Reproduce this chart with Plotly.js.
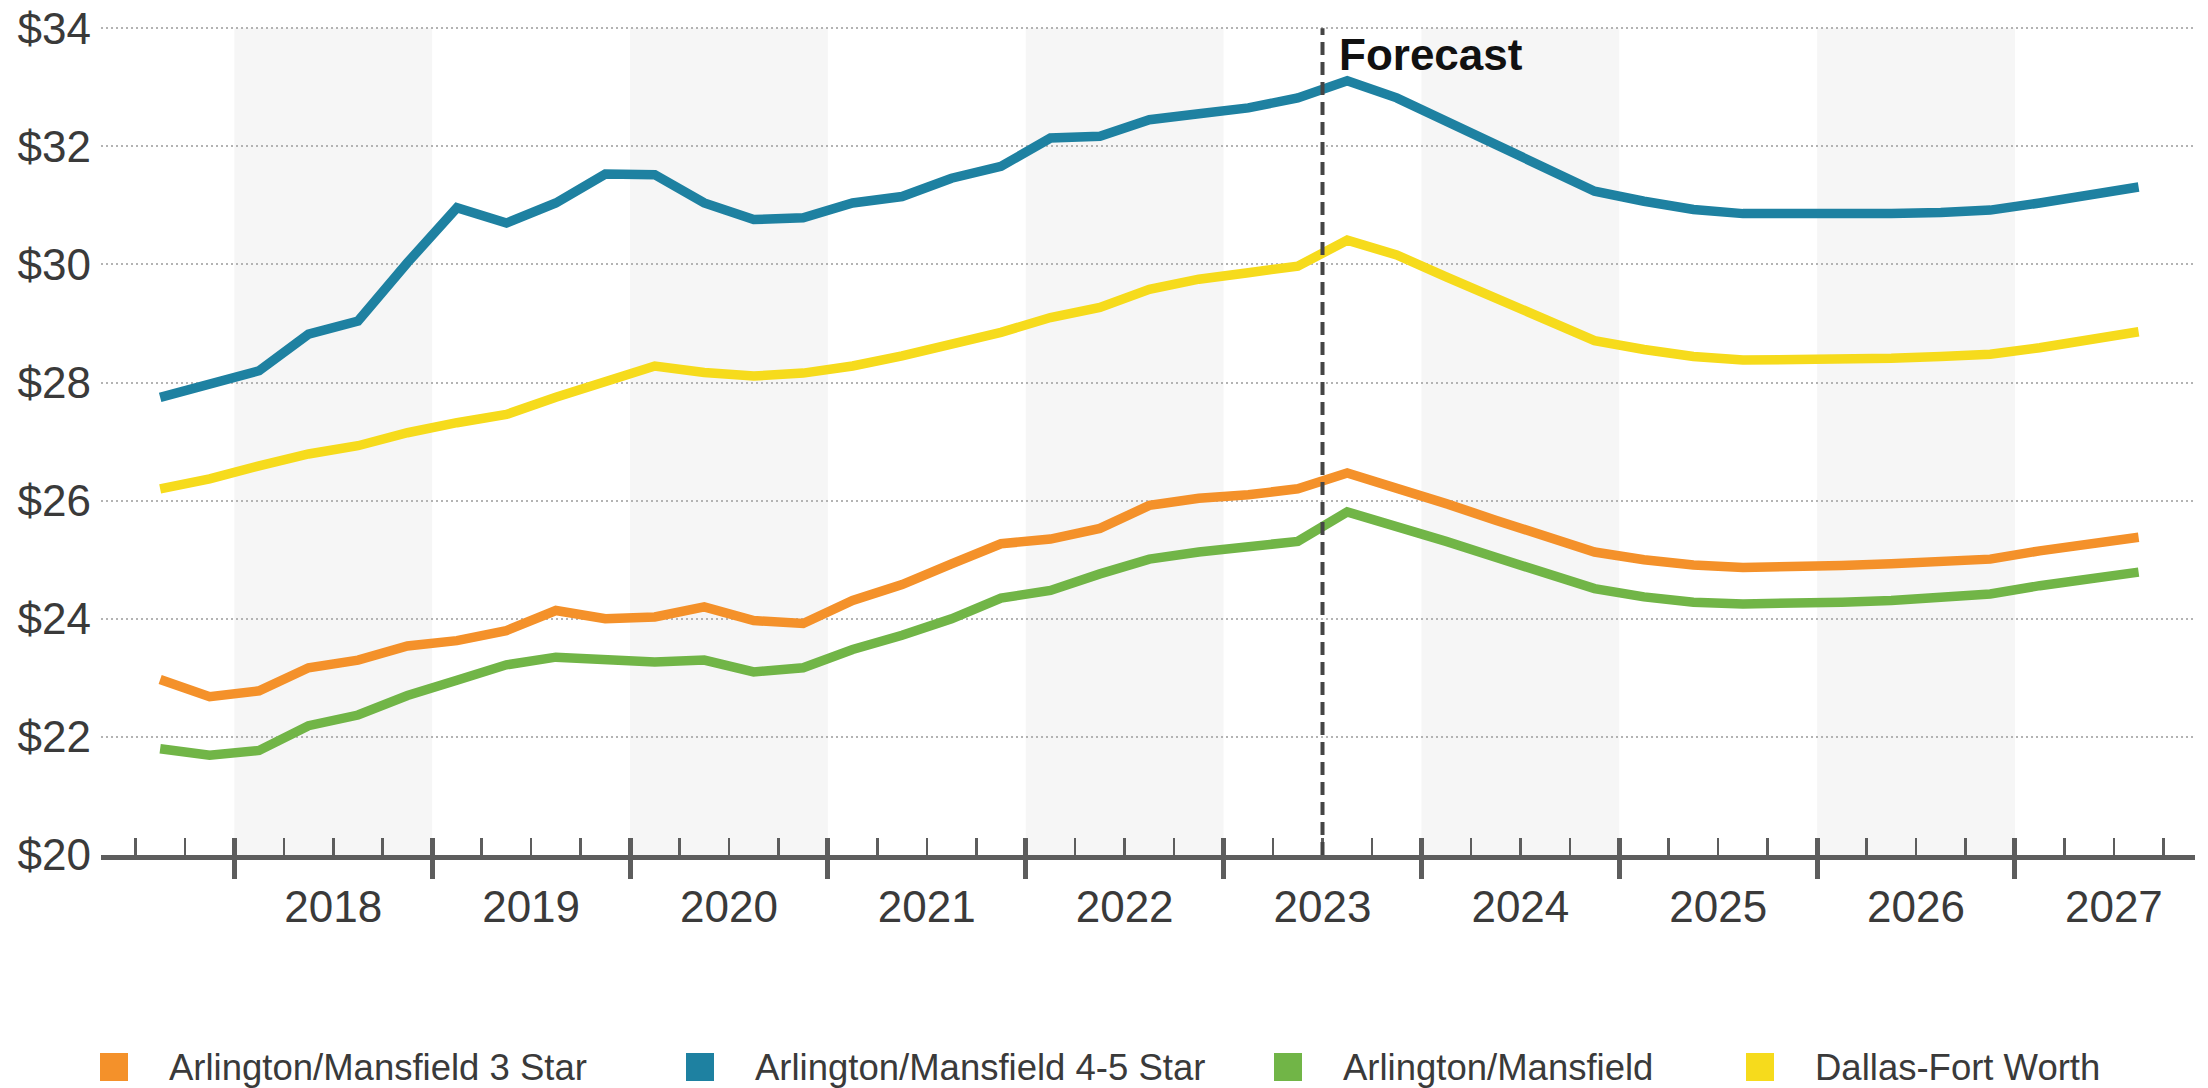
<!DOCTYPE html>
<html>
<head>
<meta charset="utf-8">
<script src="https://cdn.plot.ly/plotly-3.0.1.min.js"></script>
<style>
  html, body { margin: 0; padding: 0; background: #ffffff; }
  #chart { width: 2208px; height: 1088px; }
</style>
</head>
<body>
<div id="chart"></div>
<script>
// Quarterly asking rent per SF, history and forecast
const quarters = [
  '2017Q3','2017Q4',
  '2018Q1','2018Q2','2018Q3','2018Q4',
  '2019Q1','2019Q2','2019Q3','2019Q4',
  '2020Q1','2020Q2','2020Q3','2020Q4',
  '2021Q1','2021Q2','2021Q3','2021Q4',
  '2022Q1','2022Q2','2022Q3','2022Q4',
  '2023Q1','2023Q2','2023Q3','2023Q4',
  '2024Q1','2024Q2','2024Q3','2024Q4',
  '2025Q1','2025Q2','2025Q3','2025Q4',
  '2026Q1','2026Q2','2026Q3','2026Q4',
  '2027Q1','2027Q2','2027Q3'
];

const seriesNames = [
  'Arlington/Mansfield 3 Star',
  'Arlington/Mansfield 4-5 Star',
  'Arlington/Mansfield',
  'Dallas-Fort Worth'
];

const rent3Star = [
  22.97, 22.68,
  22.78, 23.17, 23.30, 23.54,
  23.63, 23.80, 24.14, 24.00,
  24.03, 24.20, 23.97, 23.92,
  24.31, 24.58, 24.93, 25.27,
  25.35, 25.53, 25.92, 26.04,
  26.10, 26.20, 26.47, 26.22,
  25.95, 25.67, 25.40, 25.13,
  25.00, 24.91, 24.87, 24.87,
  24.90, 24.93, 24.97, 25.01,
  25.15, 25.27, 25.38
];

const rent45Star = [
  27.75, 27.97,
  28.20, 28.82, 29.04, 30.03,
  30.96, 30.70, 31.04, 31.53,
  31.52, 31.04, 30.76, 30.79,
  31.04, 31.15, 31.46, 31.66,
  32.14, 32.17, 32.45, 32.55,
  32.65, 32.82, 33.11, 32.82,
  32.42, 32.02, 31.63, 31.24,
  31.07, 30.93, 30.86, 30.85,
  30.85, 30.86, 30.88, 30.92,
  31.04, 31.17, 31.31
];

const rentSubmarket = [
  21.80, 21.69,
  21.77, 22.19, 22.37, 22.70,
  22.96, 23.22, 23.35, 23.30,
  23.27, 23.30, 23.10, 23.17,
  23.48, 23.72, 24.00, 24.35,
  24.48, 24.76, 25.01, 25.13,
  25.21, 25.31, 25.81, 25.57,
  25.31, 25.04, 24.77, 24.51,
  24.37, 24.28, 24.25, 24.25,
  24.28, 24.31, 24.35, 24.42,
  24.56, 24.68, 24.79
];

const rentMarket = [
  26.20, 26.37,
  26.59, 26.79, 26.93, 27.15,
  27.32, 27.46, 27.75, 28.00,
  28.28, 28.17, 28.11, 28.16,
  28.28, 28.45, 28.65, 28.85,
  29.10, 29.27, 29.58, 29.75,
  29.86, 29.97, 30.41, 30.16,
  29.79, 29.42, 29.05, 28.71,
  28.56, 28.44, 28.38, 28.38,
  28.38, 28.41, 28.44, 28.48,
  28.59, 28.73, 28.86
];

const yearLabels = ['2018','2019','2020','2021','2022','2023','2024','2025','2026','2027'];
const rentTicks = [20, 22, 24, 26, 28, 30, 32, 34];
const rentTickText = ['$20','$22','$24','$26','$28','$30','$32','$34'];
const forecastStart = '2023Q3';
const forecastLabel = 'Forecast';

const colors = ['#F4912A', '#1E81A1', '#71B547', '#F6DB1C'];
const seriesValues = [rent3Star, rent45Star, rentSubmarket, rentMarket];

// quarter label -> position on a continuous year axis
function quarterMid(label) {
  const y = +label.slice(0, 4), q = +label.slice(5);
  return y + (q - 0.5) / 4;
}
function quarterStart(label) {
  const y = +label.slice(0, 4), q = +label.slice(5);
  return y + (q - 1) / 4;
}

const W = 2208, H = 1088;
const M = { l: 101, r: 13, t: 27, b: 233 };
const plotW = W - M.l - M.r, plotH = H - M.t - M.b;
const xRange = [2017.326, 2027.91];
const yRange = [20, 34.02];
const font = 'Liberation Sans, Arial, Helvetica, sans-serif';
const axisGray = '#5d5d5d';
const textGray = '#3a3a3a';

const xs = quarters.map(quarterMid);
const yearStarts = yearLabels.map(Number);
const yearMids = yearStarts.map(y => y + 0.5);
const quarterTicks = [];
for (let y = Math.floor(xRange[0]); y <= Math.ceil(xRange[1]); y++) {
  [0.25, 0.5, 0.75].forEach(f => {
    const v = y + f;
    if (v > xRange[0] && v < xRange[1]) quarterTicks.push(v);
  });
}

const traces = seriesValues.map((vals, k) => ({
  type: 'scatter',
  mode: 'lines',
  name: seriesNames[k],
  x: xs,
  y: vals,
  line: { color: colors[k], width: 9.5, shape: 'linear' },
  showlegend: false,
  hoverinfo: 'x+y+name'
}));

// carrier traces so the overlay axes (tick marks / year labels) get drawn
['x2', 'x3'].forEach(ax => traces.push({
  type: 'scatter', mode: 'lines', xaxis: ax, yaxis: 'y',
  x: yearMids, y: yearMids.map(() => null),
  showlegend: false, hoverinfo: 'skip'
}));

// shaded alternate years
const shapes = yearStarts.filter(y => y % 2 === 0).map(y => ({
  type: 'rect', xref: 'x', yref: 'y',
  x0: y, x1: y + 1, y0: yRange[0], y1: 34,
  fillcolor: '#f6f6f6', line: { width: 0 }, layer: 'below'
}));

// forecast divider
const fx = quarterStart(forecastStart);
shapes.push({
  type: 'line', xref: 'x', yref: 'y',
  x0: fx, x1: fx, y0: yRange[0], y1: 34,
  line: { color: '#454545', width: 4, dash: '13px,7px' },
  layer: 'above'
});

const annotations = [{
  xref: 'x', yref: 'paper', x: fx, y: 1,
  xanchor: 'left', yanchor: 'top', xshift: 14, yshift: -1,
  text: '<b>' + forecastLabel + '</b>', showarrow: false,
  font: { family: font, size: 44, color: '#111111' }
}];

// legend row: colour swatch followed by the series name
const px2x = px => (px - M.l) / plotW;
const py2y = py => (H - M.b - py) / plotH;
const legendLeft = [100, 686, 1274, 1746];
const swatch = 28, legendY = 1067, textGap = 67;
seriesNames.forEach((name, k) => {
  shapes.push({
    type: 'rect', xref: 'paper', yref: 'paper',
    x0: px2x(legendLeft[k]), x1: px2x(legendLeft[k] + swatch),
    y0: py2y(legendY + swatch / 2), y1: py2y(legendY - swatch / 2),
    fillcolor: colors[k], line: { width: 0 }
  });
  annotations.push({
    xref: 'paper', yref: 'paper',
    x: px2x(legendLeft[k] + textGap), y: py2y(legendY),
    xanchor: 'left', yanchor: 'middle', showarrow: false,
    text: name, font: { family: font, size: 36.5, color: textGray }
  });
});

const baseX = {
  range: xRange, fixedrange: true, showgrid: false, zeroline: false
};

const layout = {
  width: W, height: H,
  margin: M,
  paper_bgcolor: '#ffffff',
  plot_bgcolor: '#ffffff',
  font: { family: font, color: textGray },
  showlegend: false,
  xaxis: Object.assign({}, baseX, {
    showline: true, linecolor: axisGray, linewidth: 5,
    tickmode: 'array', tickvals: yearStarts,
    ticks: 'outside', ticklen: 19, tickwidth: 5, tickcolor: axisGray,
    showticklabels: false,
    minor: {
      tickmode: 'array', tickvals: quarterTicks,
      ticks: 'inside', ticklen: 17, tickwidth: 2.5, tickcolor: axisGray,
      showgrid: false
    }
  }),
  xaxis2: Object.assign({}, baseX, {
    overlaying: 'x', anchor: 'y', side: 'bottom',
    showline: false,
    tickmode: 'array', tickvals: yearStarts,
    ticks: 'inside', ticklen: 17, tickwidth: 5, tickcolor: axisGray,
    showticklabels: false
  }),
  xaxis3: Object.assign({}, baseX, {
    overlaying: 'x', anchor: 'y', side: 'bottom',
    showline: false,
    tickmode: 'array', tickvals: yearMids, ticktext: yearLabels,
    ticks: '', ticklabelstandoff: 22,
    tickfont: { family: font, size: 44, color: textGray }
  }),
  yaxis: {
    range: yRange, fixedrange: true,
    tickmode: 'array', tickvals: rentTicks, ticktext: rentTickText,
    ticks: '', ticklabelstandoff: 9,
    tickfont: { family: font, size: 44, color: textGray },
    showgrid: true, gridcolor: '#b3b3b3', gridwidth: 2, griddash: '2px,3px',
    zeroline: false, showline: false
  },
  shapes: shapes,
  annotations: annotations
};

Plotly.newPlot('chart', traces, layout, { displayModeBar: false, staticPlot: true });
</script>
</body>
</html>
